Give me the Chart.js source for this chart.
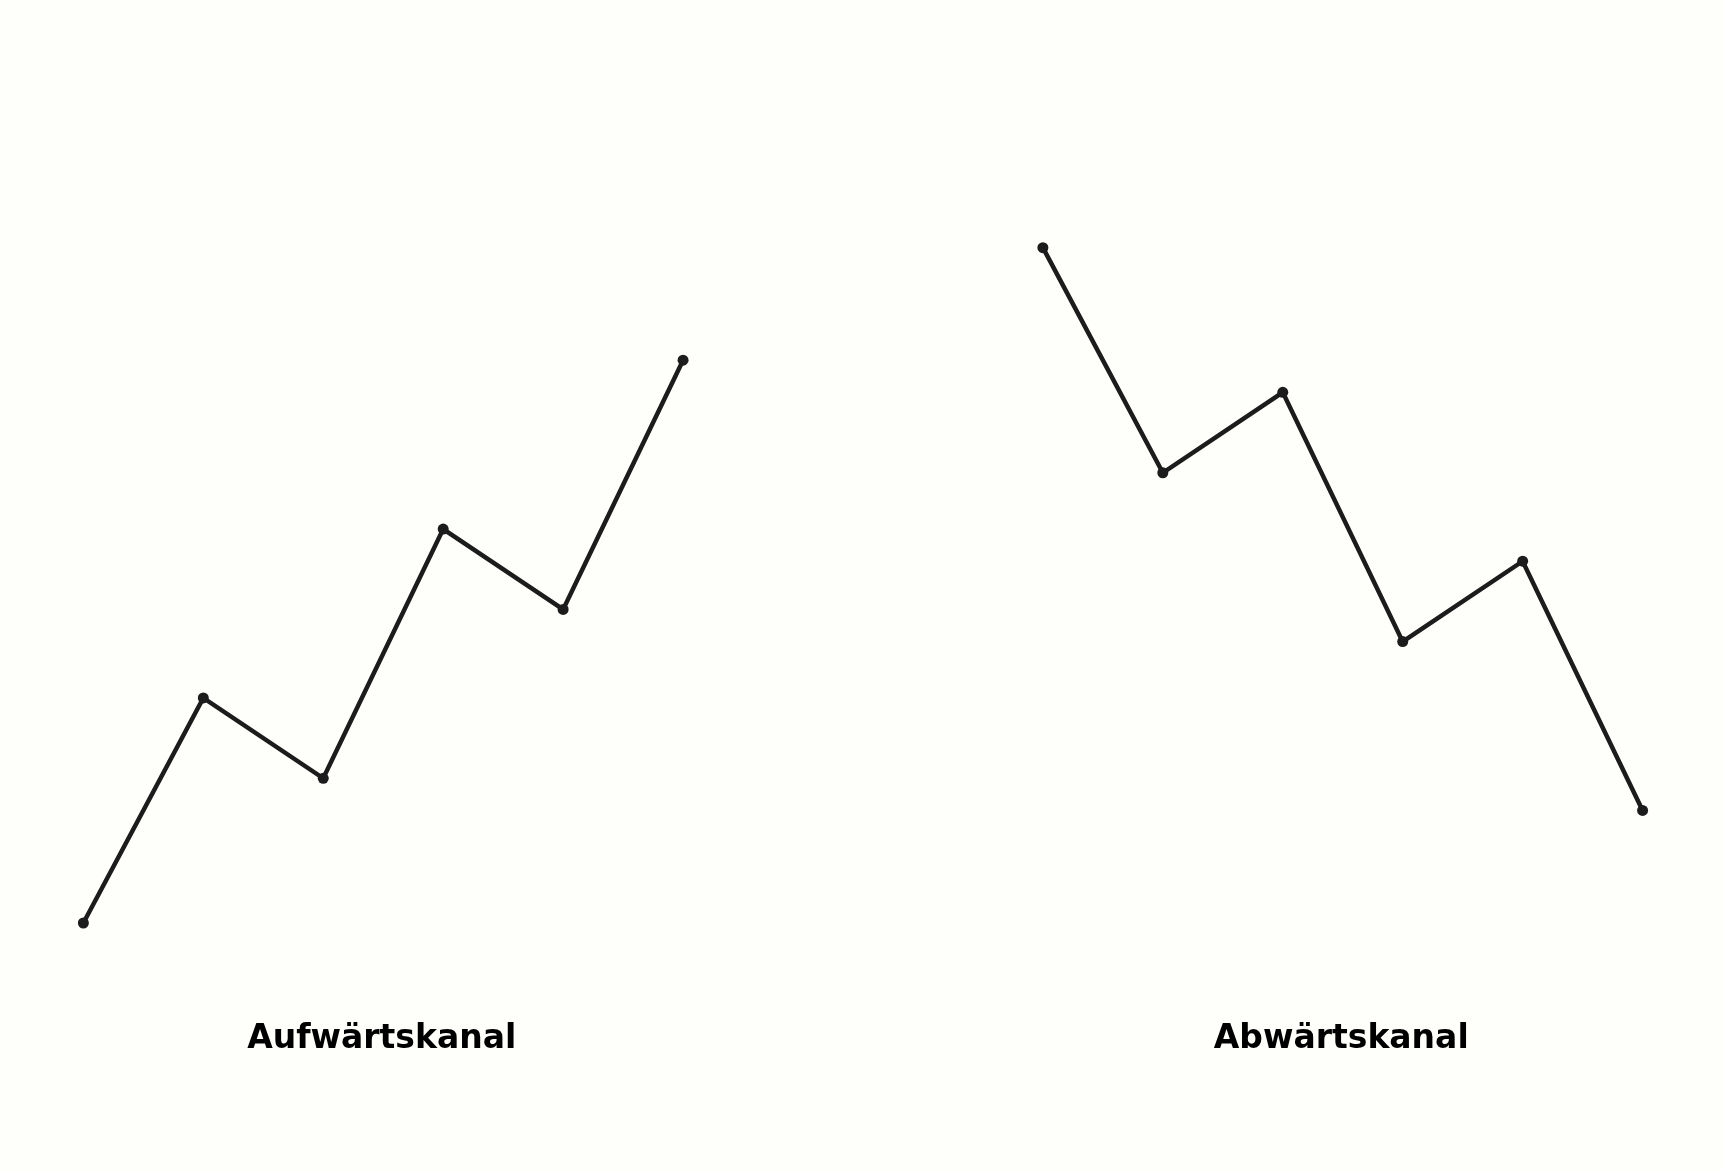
<!DOCTYPE html>
<html>
<head>
<meta charset="utf-8">
<title>Aufwärtskanal / Abwärtskanal</title>
<script src="https://cdn.jsdelivr.net/npm/chart.js@4"></script>
<style>
    html, body { margin: 0; padding: 0; background: #fefefa; overflow: hidden; }
    #wrap { width: 1725px; height: 1170px; position: relative; }
</style>
</head>
<body>
<div id="wrap"><canvas id="channels"></canvas></div>
<script>
// two price paths, drawn on one shared scale (second panel shifted right)
const upX = [0, 1, 2, 3, 4, 5];
const upY = [0, 2.8, 1.8, 4.9, 3.9, 7.0];
const downX = [8, 9, 10, 11, 12, 13];
const downY = [8.4, 5.6, 6.6, 3.5, 4.5, 1.4];
const panelTitles = ['Aufwärtskanal', 'Abwärtskanal'];

const lineColor = '#1c1c1c';

function toPoints(xs, ys) {
    return xs.map((x, i) => ({ x: x, y: ys[i] }));
}

// writes the panel names under each path, centred via the x scale
const panelLabels = {
    id: 'panelLabels',
    afterDraw(chart) {
        const ctx = chart.ctx;
        const xs = chart.scales.x;
        const ys = chart.scales.y;
        const groups = [upX, downX];
        ctx.save();
        ctx.font = 'bold 33px "DejaVu Sans"';
        ctx.fillStyle = '#000';
        ctx.textAlign = 'center';
        ctx.textBaseline = 'alphabetic';
        groups.forEach((g, i) => {
            const mid = (g[0] + g[g.length - 1]) / 2;
            ctx.fillText(panelTitles[i], xs.getPixelForValue(mid) - 1.5, ys.getPixelForValue(-1.55));
        });
        ctx.restore();
    }
};

const ctx = document.getElementById('channels').getContext('2d');
new Chart(ctx, {
    type: 'line',
    data: {
        datasets: [{
            label: panelTitles[0],
            data: toPoints(upX, upY)
        }, {
            label: panelTitles[1],
            data: toPoints(downX, downY)
        }].map(ds => Object.assign(ds, {
            borderColor: lineColor,
            backgroundColor: lineColor,
            borderWidth: 4.5,
            pointRadius: 5.5,
            pointBorderWidth: 0,
            tension: 0,
            fill: false
        }))
    },
    options: {
        responsive: true,
        maintainAspectRatio: false,
        animation: false,
        layout: { padding: 0, autoPadding: false },
        plugins: {
            legend: { display: false },
            tooltip: { enabled: false },
            title: { display: false }
        },
        scales: {
            x: { type: 'linear', display: false, min: -0.695, max: 13.687 },
            y: { type: 'linear', display: false, min: -3.072, max: 11.48 }
        }
    },
    plugins: [panelLabels]
});
</script>
</body>
</html>
